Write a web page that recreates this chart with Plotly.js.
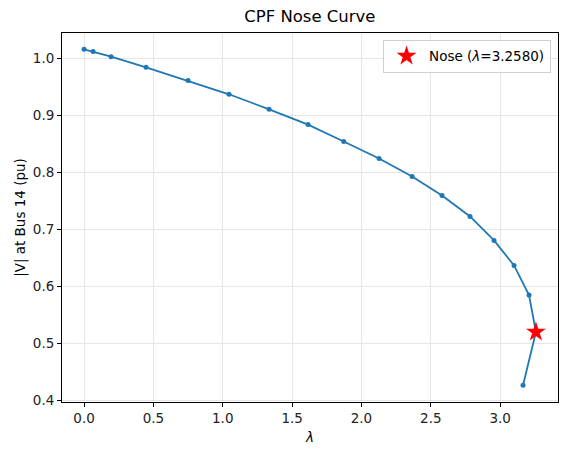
<!DOCTYPE html>
<html>
<head>
<meta charset="utf-8">
<script src="https://cdn.plot.ly/plotly-3.0.1.min.js"></script>
<style>html,body{margin:0;padding:0;background:#fff;}#chart{width:567px;height:456px;}</style>
</head>
<body>
<div id="chart"></div>
<script>
const lambdaVals = [0.0, 0.065, 0.195, 0.447, 0.750, 1.045, 1.334, 1.615, 1.872, 2.127, 2.365, 2.581, 2.783, 2.956, 3.100, 3.208, 3.258, 3.165];
const voltageVals = [1.0163, 1.0123, 1.0035, 0.9847, 0.9614, 0.9374, 0.9110, 0.8842, 0.8544, 0.8246, 0.7930, 0.7596, 0.7228, 0.6807, 0.6368, 0.5847, 0.5198, 0.4263];
const noseLambda = [3.2580];
const noseV = [0.5198];
const xTicks = [0.0, 0.5, 1.0, 1.5, 2.0, 2.5, 3.0];
const xTickText = ["0.0", "0.5", "1.0", "1.5", "2.0", "2.5", "3.0"];
const yTicks = [0.4, 0.5, 0.6, 0.7, 0.8, 0.9, 1.0];
const yTickText = ["0.4", "0.5", "0.6", "0.7", "0.8", "0.9", "1.0"];

const font = "DejaVu Sans, sans-serif";
const traces = [
  {
    x: lambdaVals, y: voltageVals, type: "scatter", mode: "lines+markers",
    line: {color: "#1f77b4", width: 1.8},
    marker: {color: "#1f77b4", size: 5},
    showlegend: false, hoverinfo: "skip"
  },
  {
    x: noseLambda, y: noseV, type: "scatter", mode: "markers",
    marker: {symbol: "star", color: "red", size: 15, line: {width: 0}},
    name: "Nose (<i>λ</i>=3.2580)"
  }
];
const axisCommon = {
  showline: true, mirror: true, linecolor: "black", linewidth: 1,
  ticks: "outside", ticklen: 4, tickwidth: 1, tickcolor: "black",
  showgrid: true, gridcolor: "#e6e6e6", gridwidth: 1, zeroline: false,
  tickfont: {family: font, size: 13.5, color: "#222"}
};
const layout = {
  width: 567, height: 456,
  margin: {l: 62, r: 9, t: 33, b: 54},
  paper_bgcolor: "white", plot_bgcolor: "white",
  title: {text: "CPF Nose Curve", font: {family: font, size: 16.5, color: "black"}, x: 0.5465, xanchor: "center", y: 0.965, yanchor: "middle"},
  xaxis: Object.assign({}, axisCommon, {
    range: [-0.159, 3.417], tickvals: xTicks, ticktext: xTickText,
    title: {text: "<i>λ</i>", font: {family: font, size: 13.5, color: "black"}, standoff: 7}
  }),
  yaxis: Object.assign({}, axisCommon, {
    range: [0.397, 1.045], tickvals: yTicks, ticktext: yTickText,
    title: {text: "|V| at Bus 14 (pu)", font: {family: font, size: 13.5, color: "black"}, standoff: 4}
  }),
  legend: {
    x: 0.986, y: 0.982, xanchor: "right", yanchor: "top",
    bgcolor: "rgba(255,255,255,0.8)", bordercolor: "#d0d0d0", borderwidth: 1,
    itemwidth: 35,
    font: {family: font, size: 13.5, color: "black"}
  },
  showlegend: true
};
Plotly.newPlot("chart", traces, layout, {staticPlot: true, displayModeBar: false});
</script>
</body>
</html>
